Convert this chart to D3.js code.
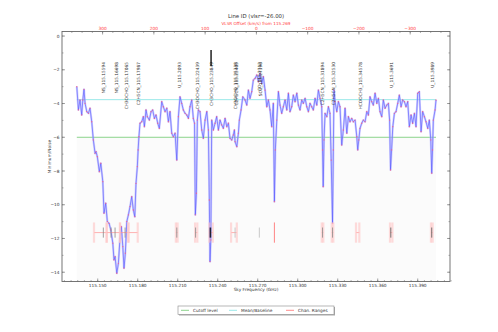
<!DOCTYPE html>
<html><head><meta charset="utf-8">
<script src="https://cdn.jsdelivr.net/npm/d3@7"></script>
<style>body{margin:0;background:#fff}svg{display:block;font-family:"DejaVu Sans",sans-serif}</style>
</head><body><svg id="c" width="498" height="332"></svg>
<script>
// ---------- data ----------
const freqs = [115.1343,115.1355,115.1367,115.1380,115.1388,115.1397,115.1405,115.1418,115.1430,115.1442,115.1455,115.1467,115.1480,115.1487,115.1497,115.1512,115.1523,115.1538,115.1547,115.1560,115.1572,115.1585,115.1598,115.1613,115.1622,115.1630,115.1643,115.1655,115.1667,115.1677,115.1688,115.1697,115.1707,115.1718,115.1730,115.1742,115.1755,115.1767,115.1778,115.1787,115.1797,115.1803,115.1809,115.1817,115.1830,115.1842,115.1850,115.1862,115.1872,115.1887,115.1900,115.1912,115.1925,115.1937,115.1950,115.1962,115.1980,115.1992,115.2005,115.2018,115.2030,115.2042,115.2055,115.2067,115.2080,115.2093,115.2105,115.2117,115.2130,115.2142,115.2155,115.2168,115.2180,115.2192,115.2205,115.2217,115.2226,115.2232,115.2240,115.2247,115.2255,115.2267,115.2280,115.2292,115.2305,115.2318,115.2330,115.2337,115.2342,115.2348,115.2355,115.2367,115.2380,115.2392,115.2405,115.2417,115.2430,115.2442,115.2455,115.2468,115.2480,115.2492,115.2505,115.2517,115.2525,115.2530,115.2543,115.2555,115.2562,115.2575,115.2588,115.2605,115.2618,115.2630,115.2642,115.2655,115.2667,115.2680,115.2693,115.2705,115.2717,115.2730,115.2742,115.2755,115.2768,115.2780,115.2792,115.2805,115.2817,115.2825,115.2832,115.2843,115.2855,115.2867,115.2880,115.2892,115.2905,115.2918,115.2930,115.2942,115.2955,115.2967,115.2980,115.2993,115.3005,115.3017,115.3030,115.3042,115.3055,115.3068,115.3080,115.3092,115.3105,115.3117,115.3130,115.3143,115.3155,115.3167,115.3180,115.3186,115.3191,115.3197,115.3205,115.3218,115.3230,115.3242,115.3251,115.3261,115.3267,115.3272,115.3280,115.3293,115.3305,115.3317,115.3330,115.3342,115.3355,115.3368,115.3380,115.3392,115.3405,115.3417,115.3430,115.3443,115.3450,115.3458,115.3467,115.3480,115.3492,115.3505,115.3518,115.3530,115.3542,115.3555,115.3567,115.3580,115.3593,115.3605,115.3617,115.3630,115.3642,115.3655,115.3668,115.3680,115.3689,115.3696,115.3704,115.3713,115.3725,115.3737,115.3750,115.3762,115.3775,115.3787,115.3800,115.3812,115.3825,115.3837,115.3850,115.3862,115.3875,115.3887,115.3900,115.3912,115.3925,115.3937,115.3950,115.3962,115.3975,115.3987,115.3998,115.4005,115.4011,115.4017,115.4030,115.4037];
const values = [-3.00,-4.38,-3.79,-4.68,-3.79,-3.16,-3.99,-4.48,-4.58,-4.28,-5.08,-6.16,-6.95,-6.85,-7.15,-8.04,-7.54,-8.63,-10.50,-9.91,-11.00,-11.10,-11.49,-12.28,-13.27,-13.07,-14.06,-13.47,-11.98,-11.30,-12.48,-13.76,-12.87,-11.00,-10.60,-10.11,-9.52,-10.31,-10.71,-8.73,-7.74,-6.75,-5.97,-5.17,-5.08,-4.78,-5.37,-4.38,-4.78,-4.98,-4.48,-4.38,-4.88,-4.68,-5.17,-5.47,-3.89,-4.19,-4.48,-4.28,-5.08,-4.48,-5.76,-5.97,-5.76,-7.35,-4.78,-3.60,-3.99,-4.38,-4.58,-4.68,-4.88,-4.19,-3.79,-4.88,-5.17,-10.60,-9.32,-4.98,-4.38,-4.48,-5.57,-6.06,-4.98,-4.48,-5.57,-9.72,-13.37,-12.09,-4.98,-5.57,-5.17,-4.78,-5.57,-4.98,-5.27,-5.47,-4.88,-5.37,-5.17,-6.06,-6.16,-5.86,-5.57,-6.26,-6.56,-5.76,-4.98,-4.38,-3.60,-3.79,-4.09,-3.20,-3.69,-3.30,-2.61,-2.51,-2.31,-2.71,-2.21,-2.80,-2.41,-3.20,-4.19,-3.79,-4.38,-5.37,-3.99,-9.82,-6.75,-4.98,-3.30,-4.09,-4.58,-4.19,-3.79,-4.38,-3.39,-4.48,-4.19,-3.50,-3.89,-3.39,-4.09,-4.38,-3.79,-3.99,-3.69,-4.19,-4.48,-3.99,-4.19,-4.38,-3.69,-4.09,-3.20,-3.69,-4.19,-6.75,-8.93,-6.16,-4.58,-4.78,-4.19,-4.58,-7.35,-11.10,-6.75,-3.20,-3.89,-4.48,-3.89,-4.19,-6.46,-5.57,-4.28,-5.76,-4.78,-5.08,-4.88,-5.08,-4.98,-5.97,-6.75,-6.16,-5.47,-5.17,-4.98,-5.08,-4.48,-4.68,-3.60,-3.89,-4.09,-3.39,-3.99,-3.69,-4.48,-4.78,-3.79,-4.28,-4.09,-3.99,-4.98,-7.94,-6.75,-5.37,-4.58,-4.48,-3.99,-3.50,-4.19,-3.79,-3.89,-4.19,-3.89,-5.37,-4.68,-5.17,-4.58,-5.37,-3.39,-3.30,-5.67,-4.48,-4.78,-5.08,-5.47,-4.98,-6.16,-8.13,-6.75,-4.98,-4.38,-3.79];
const cutoffLevel = -6.0;
const baselineLevel = -3.77;
const lineLabels = ["NS_115.15594","NS_115.16698","CH3OCHO_115.17065","C2H5CN_115.17987","U_115.2093","CH3OCHO_115.22439","CH3CHO_115.23849","CH3OCHO_115.25338","C2H5CN_115.25405","CO_115.2712","SO2_115.27190","C2H5CN_115.31894","C2H5CN_115.32530","HCOOCH3_115.34578","U_115.3691","U_115.3989"];
const labelFreqs = [115.1542,115.1643,115.1712,115.1807,115.2112,115.2248,115.2350,115.2530,115.2542,115.2714,115.2719,115.3187,115.3265,115.3467,115.3700,115.4007];
const rangeLo = [115.1472,115.1567,115.1667,115.1730,115.2086,115.2230,115.2337,115.2500,115.3180,115.3255,115.3437,115.3692,115.3999];
const rangeHi = [115.1567,115.1667,115.1730,115.1800,115.2099,115.2247,115.2363,115.2543,115.3192,115.3267,115.3462,115.3710,115.4012];
const markerFreqs = [115.1542,115.1600,115.1630,115.1705,115.2093,115.2234,115.2345,115.2530,115.2712,115.3186,115.3261,115.3698,115.4005];
const markerShade = ["#888","#888","#888","#888","#888","#888","#223","#bbb","#bbb","#888","#888","#555","#555"];
const vlsrMarkerFreq = [115.2825];
const rangeLevel = -11.65;
const xTicks = [115.150,115.180,115.210,115.240,115.270,115.300,115.330,115.360,115.390];
const yTicks = [-14,-12,-10,-8,-6,-4,-2,0];
const velTicks = [300,200,100,0,-100,-200,-300];
const refFreq = 115.269;
const cKms = 299792.458;
const titleText = "Line ID (vlsr=-26.00)";
const topAxisTitle = "VLSR Offset (km/s) from 115.269";
const xAxisTitle = "Sky Frequency (GHz)";
const yAxisTitle = "Minimum/Noise";
const legendNames = ["Cutoff level","Mean/Baseline","Chan. Ranges"];
const legendColors = ["#7fcf7f","#8fe6e6","#ff8080"];

// ---------- layout ----------
const svg = d3.select("#c");
const L=62, R=450, T=31.5, B=281.5;
const x = d3.scaleLinear().domain([115.1232,115.4142]).range([L,R]);
const y = d3.scaleLinear().domain([-14.55,0.27]).range([B,T]);
const fmtMinus = s => String(s).replace("-", "\u2212");
const frameCol = "#666";

// faint shaded region below cutoff over the data span
svg.append("rect").attr("x", x(d3.min(freqs))).attr("y", y(cutoffLevel))
  .attr("width", x(d3.max(freqs)) - x(d3.min(freqs))).attr("height", B - y(cutoffLevel))
  .attr("fill", "#fbfbfb");

// cutoff & baseline
[[cutoffLevel, legendColors[0]],[baselineLevel, legendColors[1]]].forEach(([lv,c])=>{
  svg.append("line").attr("x1", x(d3.min(freqs))).attr("x2", x(d3.max(freqs)))
    .attr("y1", y(lv)).attr("y2", y(lv)).attr("stroke", c).attr("stroke-width", 0.9);
});

// spectrum
const pts = freqs.map((f,i)=>[f, values[i]]);
const lineGen = d3.line().x(d=>x(d[0])).y(d=>y(d[1]));
svg.append("path").attr("d", lineGen(pts)).attr("fill","none")
  .attr("stroke","#b4b4ff").attr("stroke-width",2.2).attr("stroke-opacity",0.6).attr("stroke-linejoin","round");
svg.append("path").attr("d", lineGen(pts)).attr("fill","none")
  .attr("stroke","#5050ff").attr("stroke-width",0.6).attr("stroke-linejoin","round");
svg.selectAll("circle.pt").data(pts).enter().append("circle")
  .attr("cx", d=>x(d[0])).attr("cy", d=>y(d[1])).attr("r",0.65).attr("fill","#f06090");

// channel ranges
const hh = 0.6;
rangeLo.forEach((lo,i)=>{
  const hi = rangeHi[i];
  svg.append("line").attr("x1",x(lo)).attr("x2",x(hi)).attr("y1",y(rangeLevel)).attr("y2",y(rangeLevel))
    .attr("stroke","#ff9090").attr("stroke-width",0.7);
  [lo,hi].forEach(f=>{
    svg.append("rect").attr("x",x(f)-1.1).attr("width",2.2)
      .attr("y",y(rangeLevel+hh)).attr("height",y(rangeLevel-hh)-y(rangeLevel+hh))
      .attr("fill","#ffc4c4").attr("fill-opacity",0.6);
  });
});
markerFreqs.forEach((f,i)=>{
  svg.append("line").attr("x1",x(f)).attr("x2",x(f))
    .attr("y1",y(rangeLevel+0.3)).attr("y2",y(rangeLevel-0.3))
    .attr("stroke",markerShade[i]).attr("stroke-width", i===6?1.6:0.8);
});
vlsrMarkerFreq.forEach(f=>{
  svg.append("line").attr("x1",x(f)).attr("x2",x(f))
    .attr("y1",y(rangeLevel+hh)).attr("y2",y(rangeLevel-hh))
    .attr("stroke","#ff5050").attr("stroke-width",0.7);
});

// line ID labels
lineLabels.forEach((t,i)=>{
  const xx = x(labelFreqs[i]);
  svg.append("text").attr("transform",`translate(${xx},62) rotate(-90)`)
    .attr("text-anchor","end").attr("dy","0.35em").attr("font-size",4.3).attr("fill","#333").text(t);
});
// black bar over CH3CHO label
svg.append("line").attr("x1",x(labelFreqs[6])).attr("x2",x(labelFreqs[6])).attr("y1",50).attr("y2",66)
  .attr("stroke","#111").attr("stroke-width",1.4);

// frame
svg.append("rect").attr("x",L).attr("y",T).attr("width",R-L).attr("height",B-T)
  .attr("fill","none").attr("stroke",frameCol).attr("stroke-width",0.9);

// bottom axis ticks
d3.range(115.125,115.415,0.005).forEach(f=>{
  svg.append("line").attr("x1",x(f)).attr("x2",x(f)).attr("y1",B).attr("y2",B-1.5).attr("stroke",frameCol).attr("stroke-width",0.5);
});
xTicks.forEach(f=>{
  svg.append("line").attr("x1",x(f)).attr("x2",x(f)).attr("y1",B).attr("y2",B-3).attr("stroke",frameCol).attr("stroke-width",0.6);
  svg.append("text").attr("x",x(f)).attr("y",B+5.5).attr("text-anchor","middle").attr("font-size",4.3).attr("fill","#333").text(f.toFixed(3));
});
// top axis (velocity)
const vToF = v => refFreq*(1 - v/cKms);
d3.range(-360,361,20).forEach(v=>{
  const xx = x(vToF(v)); if (xx<L||xx>R) return;
  svg.append("line").attr("x1",xx).attr("x2",xx).attr("y1",T).attr("y2",T+1.5).attr("stroke",frameCol).attr("stroke-width",0.5);
});
velTicks.forEach(v=>{
  const xx = x(vToF(v));
  svg.append("line").attr("x1",xx).attr("x2",xx).attr("y1",T).attr("y2",T+3).attr("stroke",frameCol).attr("stroke-width",0.6);
  svg.append("text").attr("x",xx).attr("y",T-2).attr("text-anchor","middle").attr("font-size",4.3).attr("fill","#ff4040").text(fmtMinus(v));
});
// y axis
d3.range(-14,1,1).forEach(v=>{
  [[L,1],[R,-1]].forEach(([x0,s])=>{
    svg.append("line").attr("x1",x0).attr("x2",x0+s*1.5).attr("y1",y(v)).attr("y2",y(v)).attr("stroke",frameCol).attr("stroke-width",0.5);
  });
});
yTicks.forEach(v=>{
  [[L,1],[R,-1]].forEach(([x0,s])=>{
    svg.append("line").attr("x1",x0).attr("x2",x0+s*3).attr("y1",y(v)).attr("y2",y(v)).attr("stroke",frameCol).attr("stroke-width",0.6);
  });
  svg.append("text").attr("x",L-2.5).attr("y",y(v)).attr("dy","0.35em").attr("text-anchor","end").attr("font-size",4.3).attr("fill","#333").text(fmtMinus(v));
});

// titles
svg.append("text").attr("x",256).attr("y",18).attr("text-anchor","middle").attr("font-size",5.4).attr("fill","#333").text(titleText);
svg.append("text").attr("x",256).attr("y",24.6).attr("text-anchor","middle").attr("font-size",4.2).attr("fill","#ff4040").text(topAxisTitle);
svg.append("text").attr("x",256).attr("y",291).attr("text-anchor","middle").attr("font-size",4.3).attr("fill","#333").text(xAxisTitle);
svg.append("text").attr("transform",`translate(51,${(T+B)/2}) rotate(-90)`).attr("text-anchor","middle").attr("font-size",4.3).attr("fill","#333").text(yAxisTitle);

// legend
const lg = svg.append("g");
lg.append("rect").attr("x",179).attr("y",307).attr("width",156).attr("height",8.5).attr("fill","#aaa");
lg.append("rect").attr("x",178).attr("y",306).attr("width",156).attr("height",8.5).attr("fill","#fff").attr("stroke","#888").attr("stroke-width",0.6);
const lgX = [181,229,286];
legendNames.forEach((n,i)=>{
  lg.append("line").attr("x1",lgX[i]).attr("x2",lgX[i]+8).attr("y1",310.3).attr("y2",310.3).attr("stroke",legendColors[i]).attr("stroke-width",0.9);
  lg.append("text").attr("x",lgX[i]+12).attr("y",310.3).attr("dy","0.35em").attr("font-size",4.3).attr("fill","#333").text(n);
});
</script></body></html>
